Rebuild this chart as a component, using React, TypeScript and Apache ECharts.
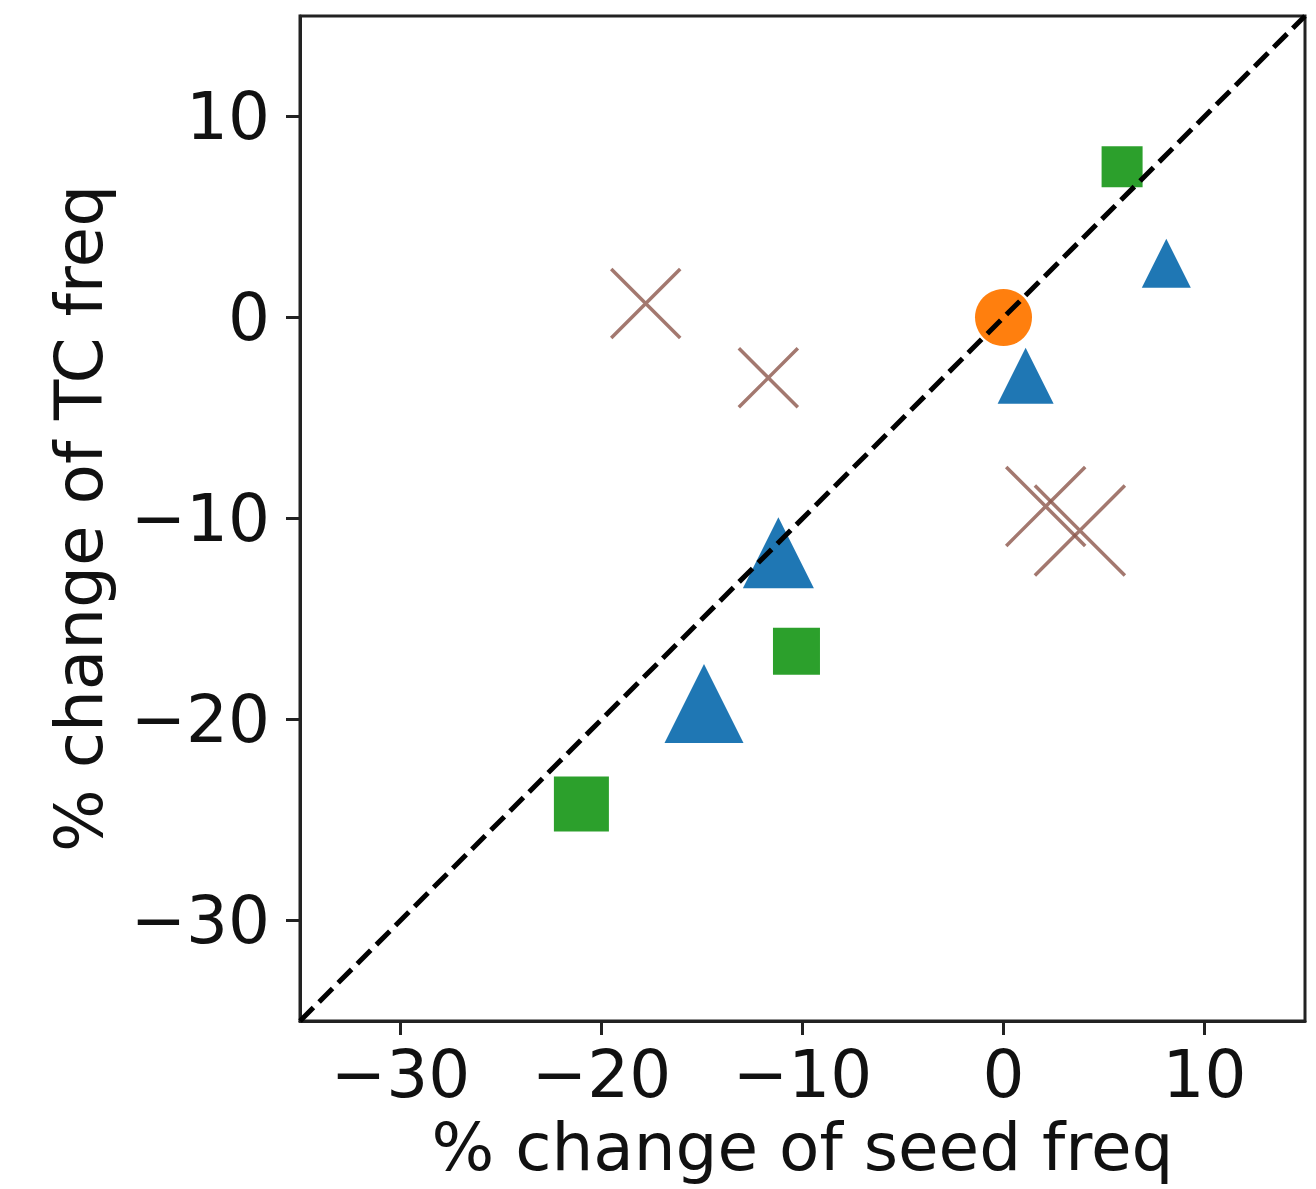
import React, { useEffect, useRef } from "react";
import * as echarts from "echarts";

// ---- data ----
const squaresX = [5.9, -10.3, -21.0];
const squaresY = [7.5, -16.6, -24.2];
const squaresSize = [41, 47, 55];

const trianglesX = [8.1, 1.1, -11.2, -14.9];
const trianglesY = [2.7, -2.9, -11.7, -19.2];
const trianglesSize = [49, 56, 71, 79];

const circlesX = [0.0];
const circlesY = [0.0];
const circlesSize = [57];

const crossesX = [-17.8, -11.7, 2.1, 3.8];
const crossesY = [0.7, -3.0, -9.4, -10.6];
const crossesSize = [69, 59, 79, 90];

const xTicks = [-30, -20, -10, 0, 10];
const yTicks = [-30, -20, -10, 0, 10];
const xRange = [-35, 15];
const yRange = [-35, 15];
const diagonal = [-35, 15];

const xTitle = "% change of seed freq";
const yTitle = "% change of TC freq";

const FONT = "DejaVu Sans";
const fmt = (v: number) => (v < 0 ? "\u2212" + Math.abs(v) : String(v));
const zip3 = (a: number[], b: number[], c: number[]) => a.map((v, i) => [v, b[i], c[i]]);

export default function App() {
  const ref = useRef<HTMLDivElement>(null);
  useEffect(() => {
    if (!ref.current) return;
    const chart = echarts.init(ref.current, undefined, { renderer: "svg" });
    const axisCommon = {
      type: "value",
      axisLine: { show: true, onZero: false, lineStyle: { color: "#222", width: 3 } },
      axisTick: { show: true, inside: false, length: 14, lineStyle: { color: "#222", width: 3 } },
      splitLine: { show: false },
      nameLocation: "middle",
      nameTextStyle: { fontFamily: FONT, fontSize: 66, color: "#111" },
    };
    chart.setOption({
      animation: false,
      backgroundColor: "#ffffff",
      grid: {
        left: 300,
        right: 11,
        top: 16,
        bottom: 168,
        containLabel: false,
        outerBoundsMode: "none",
        show: true,
        borderColor: "#222",
        borderWidth: 3,
        backgroundColor: "transparent",
      },
      xAxis: {
        ...axisCommon,
        min: xRange[0],
        max: xRange[1],
        name: xTitle,
        nameGap: 93,
        axisTick: { ...axisCommon.axisTick, customValues: xTicks },
        axisLabel: {
          customValues: xTicks,
          formatter: fmt,
          fontFamily: FONT,
          fontSize: 66,
          color: "#111",
          margin: 20,
        },
      },
      yAxis: {
        ...axisCommon,
        min: yRange[0],
        max: yRange[1],
        name: yTitle,
        nameRotate: 90,
        nameGap: 188,
        axisTick: { ...axisCommon.axisTick, customValues: yTicks },
        axisLabel: {
          customValues: yTicks,
          formatter: fmt,
          fontFamily: FONT,
          fontSize: 66,
          color: "#111",
          margin: 30,
        },
      },
      series: [
        {
          type: "scatter",
          symbol: "rect",
          data: zip3(squaresX, squaresY, squaresSize),
          symbolSize: (v: number[]) => v[2],
          itemStyle: { color: "#2ca02c", opacity: 1 },
          z: 2,
        },
        {
          type: "scatter",
          symbol: "triangle",
          data: zip3(trianglesX, trianglesY, trianglesSize),
          symbolSize: (v: number[]) => v[2],
          itemStyle: { color: "#1f77b4", opacity: 1 },
          z: 2,
        },
        {
          type: "scatter",
          symbol: "circle",
          data: zip3(circlesX, circlesY, circlesSize),
          symbolSize: (v: number[]) => v[2],
          itemStyle: { color: "#ff7f0e", opacity: 1 },
          z: 2,
        },
        {
          type: "scatter",
          symbol: "path://M0,0L10,10M10,0L0,10",
          data: zip3(crossesX, crossesY, crossesSize),
          symbolSize: (v: number[]) => v[2],
          itemStyle: {
            color: "transparent",
            borderColor: "rgba(140,86,75,0.8)",
            borderWidth: 3.5,
            opacity: 1,
          },
          z: 2,
        },
        {
          type: "line",
          data: diagonal.map((v) => [v, v]),
          symbol: "none",
          lineStyle: { color: "#000", width: 5, type: [19, 8] },
          z: 10,
          silent: true,
        },
      ],
    });
    return () => chart.dispose();
  }, []);
  return (
    <div
      ref={ref}
      style={{ position: "fixed", left: 0, top: 0, width: 1316, height: 1189, background: "#fff" }}
    />
  );
}
